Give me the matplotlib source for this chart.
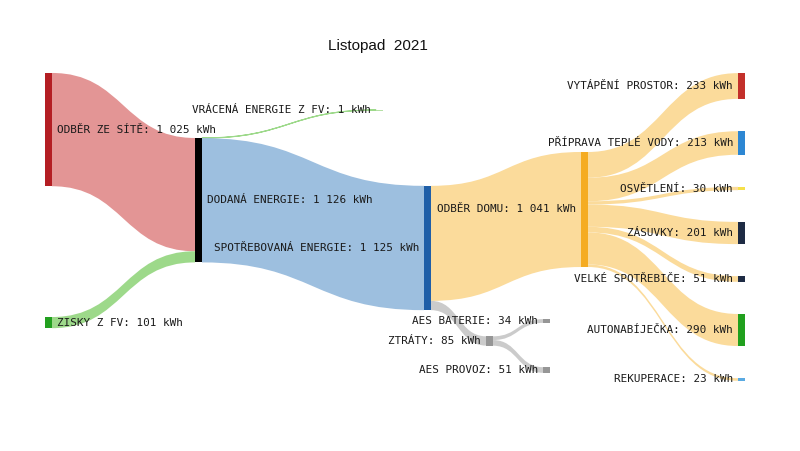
"""
Sankey diagram of household energy flows, November 2021.
Drawn by hand with matplotlib patches (cubic bezier links + rectangular nodes).
"""
import numpy as np
import matplotlib
matplotlib.use("Agg")
import matplotlib.pyplot as plt
from matplotlib.path import Path
from matplotlib.patches import PathPatch, Rectangle

# --- Data: nodes and flows (kWh) ---
node_names = [
    "ODBĚR ZE SÍTĚ",          # 0
    "ZISKY Z FV",             # 1
    "DODANÁ ENERGIE",         # 2
    "VRÁCENÁ ENERGIE Z FV",   # 3
    "SPOTŘEBOVANÁ ENERGIE",   # 4
    "ODBĚR DOMU",             # 5
    "ZTRÁTY",                 # 6
    "AES BATERIE",            # 7
    "AES PROVOZ",             # 8
    "VYTÁPĚNÍ PROSTOR",       # 9
    "PŘÍPRAVA TEPLÉ VODY",    # 10
    "OSVĚTLENÍ",              # 11
    "ZÁSUVKY",                # 12
    "VELKÉ SPOTŘEBIČE",       # 13
    "AUTONABÍJEČKA",          # 14
    "REKUPERACE",             # 15
]
link_source = [0, 1, 2, 2, 4, 4, 6, 6, 5, 5, 5, 5, 5, 5, 5]
link_target = [2, 2, 3, 4, 5, 6, 7, 8, 9, 10, 11, 12, 13, 14, 15]
link_value = [1025, 101, 1, 1125, 1041, 84, 34, 51, 233, 213, 30, 201, 51, 290, 23]

title = "Listopad  2021"

# --- Styles ---
node_colors = [
    "#b41e23", "#23a020", "#000000", "#b5e0a5", "#1f5fa8", "#f5ac22",
    "#969696", "#969696", "#969696", "#c3302b", "#2d87d3", "#f6e04a",
    "#1e2b44", "#1e2b44", "#21a01e", "#5aaae2",
]
link_colors = [
    "#e39595", "#9dd98a", "#9dd98a", "#9dbfdf", "#fbdb9b", "#cbcbcb",
    "#cbcbcb", "#cbcbcb",
] + ["#fbdb9b"] * 7

# --- Layout (pixel space, 800 x 451): node left edge and vertical centre ---
node_x = [45, 45, 195, 376, 424, 581, 486, 543, 543, 738, 738, 738, 738, 738, 738, 738]
node_cy = [129.6, 322.6, 200.2, 110, 248, 209.5, 341, 321, 370,
           86, 143, 188.5, 233, 279, 330, 379.5]
NODE_W = 7
PX_PER_KWH = 0.1105
LABEL_GAP = 5

n_nodes = len(node_names)
val_in = np.zeros(n_nodes)
val_out = np.zeros(n_nodes)
for s, t, v in zip(link_source, link_target, link_value):
    val_out[s] += v
    val_in[t] += v
node_values = np.maximum(val_in, val_out).astype(int)
node_h = node_values * PX_PER_KWH
node_top = np.array(node_cy) - node_h / 2

fig = plt.figure(figsize=(8, 4.51), dpi=100)
ax = fig.add_axes([0, 0, 1, 1])
ax.set_xlim(0, 800)
ax.set_ylim(451, 0)
ax.axis("off")

# stacking offsets: outgoing sorted by target centre, incoming by source centre
out_off = {}
in_off = {}
for n in range(n_nodes):
    outs = sorted([i for i, s in enumerate(link_source) if s == n], key=lambda i: node_cy[link_target[i]])
    y = node_top[n]
    for i in outs:
        out_off[i] = y
        y += link_value[i] * PX_PER_KWH
    ins = sorted([i for i, t in enumerate(link_target) if t == n], key=lambda i: node_cy[link_source[i]])
    y = node_top[n]
    for i in ins:
        in_off[i] = y
        y += link_value[i] * PX_PER_KWH

for i, (s, t, v) in enumerate(zip(link_source, link_target, link_value)):
    h = v * PX_PER_KWH
    x0 = node_x[s] + NODE_W
    x1 = node_x[t]
    xm = (x0 + x1) / 2
    y0, y1 = out_off[i], in_off[i]
    verts = [
        (x0, y0), (xm, y0), (xm, y1), (x1, y1),
        (x1, y1 + h), (xm, y1 + h), (xm, y0 + h), (x0, y0 + h),
        (x0, y0),
    ]
    codes = [Path.MOVETO, Path.CURVE4, Path.CURVE4, Path.CURVE4,
             Path.LINETO, Path.CURVE4, Path.CURVE4, Path.CURVE4,
             Path.CLOSEPOLY]
    lw = 0.8 if h < 1.5 else 0.0
    ax.add_patch(PathPatch(Path(verts, codes), facecolor=link_colors[i],
                           edgecolor=link_colors[i], lw=lw, zorder=1))

for n in range(n_nodes):
    h = max(node_h[n], 1.0)
    ax.add_patch(Rectangle((node_x[n], node_cy[n] - h / 2), NODE_W, h,
                           facecolor=node_colors[n], edgecolor="none", zorder=2))
    label = f"{node_names[n]}: {node_values[n]:,} kWh".replace(",", " ")
    if node_x[n] > 300:
        ax.text(node_x[n] - LABEL_GAP, node_cy[n], label, ha="right", va="center",
                fontsize=7.9, family="DejaVu Sans Mono", color="#1a1a1a", zorder=3)
    else:
        ax.text(node_x[n] + NODE_W + LABEL_GAP, node_cy[n], label, ha="left", va="center",
                fontsize=7.9, family="DejaVu Sans Mono", color="#1a1a1a", zorder=3)

ax.text(378, 46, title, ha="center", va="center", fontsize=11,
        family="Liberation Sans", color="#111111")

fig.savefig("out.png", dpi=100)
